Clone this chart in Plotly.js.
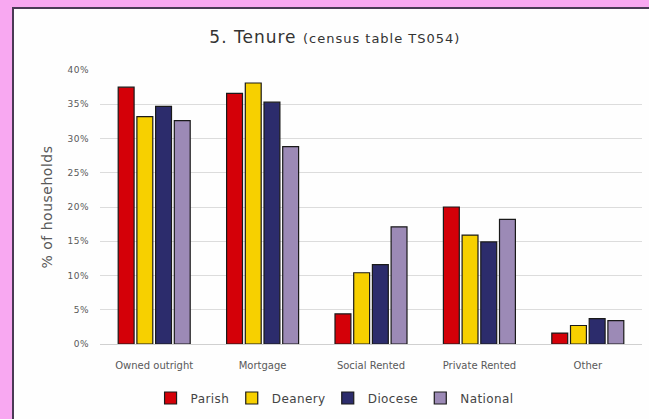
<!DOCTYPE html>
<html>
<head>
<meta charset="utf-8">
<script src="https://cdn.plot.ly/plotly-3.0.1.min.js"></script>
<style>
  html, body { margin: 0; padding: 0; width: 649px; height: 419px; overflow: hidden; background: #fefefe; }
  .strip { position: absolute; }
  #pinkLeft { left: 0; top: 0; width: 12px; height: 419px; background: #f8a8f1; }
  #pinkTop { left: 0; top: 0; width: 649px; height: 7px; background: #f8a8f1; }
  #lineLeft { left: 12px; top: 7px; width: 2px; height: 412px; background: #4a3a55; }
  #lineTop { left: 12px; top: 7px; width: 637px; height: 2px; background: #4a3a55; }
  #chart { position: absolute; left: 0; top: 0; width: 649px; height: 419px; }
  #chart .legendtext { letter-spacing: 0.4px; }
  #chart .gtitle { letter-spacing: 1px; }
  #chart .ytitle { letter-spacing: 0.5px; }
  #chart .ytick text { letter-spacing: 0.5px; }
</style>
</head>
<body>
<div class="strip" id="pinkLeft"></div>
<div class="strip" id="pinkTop"></div>
<div class="strip" id="lineLeft"></div>
<div class="strip" id="lineTop"></div>
<div id="chart"></div>
<script>
const categories = ["Owned outright", "Mortgage", "Social Rented", "Private Rented", "Other"];
const seriesNames = ["Parish", "Deanery", "Diocese", "National"];
const parish   = [37.5, 36.6, 4.4, 20.0, 1.6];
const deanery  = [33.2, 38.1, 10.4, 15.9, 2.7];
const diocese  = [34.7, 35.3, 11.6, 14.9, 3.7];
const national = [32.6, 28.8, 17.1, 18.2, 3.4];
const yTickVals = [0, 5, 10, 15, 20, 25, 30, 35, 40];
const yTickText = ["0%", "5%", "10%", "15%", "20%", "25%", "30%", "35%", "40%"];

const colors = ["#d40008", "#f7d000", "#2c2c6c", "#9c8ab6"];
const values = [parish, deanery, diocese, national];

const traces = seriesNames.map((name, i) => ({
  type: "bar",
  name: name,
  x: categories,
  y: values[i],
  marker: { color: colors[i], line: { color: "#1a1a1a", width: 1.2 } },
  hoverinfo: "skip"
}));

const FONT = "'DejaVu Sans', Lato, sans-serif";

const layout = {
  width: 649,
  height: 419,
  paper_bgcolor: "rgba(0,0,0,0)",
  plot_bgcolor: "rgba(0,0,0,0)",
  margin: { l: 100, r: 7, t: 70, b: 75 },
  font: { family: FONT, color: "#595959" },
  title: {
    text: "5. Tenure <span style='font-size:13px'>(census table TS054)</span>",
    font: { family: FONT, size: 17, color: "#333333" },
    xref: "container", x: 0.516, xanchor: "center",
    yref: "container", y: 0.912, yanchor: "middle"
  },
  barmode: "group",
  bargap: 0.31,
  bargroupgap: 0.15,
  xaxis: {
    showgrid: false,
    showline: true,
    linecolor: "#d0d0d0",
    linewidth: 1,
    ticks: "",
    ticklabelstandoff: 12,
    tickfont: { family: FONT, size: 10, color: "#595959" },
    fixedrange: true
  },
  yaxis: {
    range: [0, 40],
    tickvals: yTickVals,
    ticktext: yTickText,
    showgrid: true,
    gridcolor: "#dcdcdc",
    gridwidth: 1,
    zeroline: false,
    showline: false,
    ticks: "",
    ticklabelstandoff: 10,
    tickfont: { family: FONT, size: 9, color: "#595959" },
    title: { text: "% of households", font: { family: FONT, size: 14, color: "#595959" }, standoff: 13 },
    fixedrange: true
  },
  showlegend: true,
  legend: {
    orientation: "h",
    x: 0.43, xanchor: "center",
    y: -0.197, yanchor: "middle",
    font: { family: FONT, size: 12, color: "#444444" },
    itemwidth: 30,
    traceorder: "normal",
    bgcolor: "rgba(0,0,0,0)"
  }
};

Plotly.newPlot("chart", traces, layout, { displayModeBar: false, staticPlot: true });
</script>
</body>
</html>
